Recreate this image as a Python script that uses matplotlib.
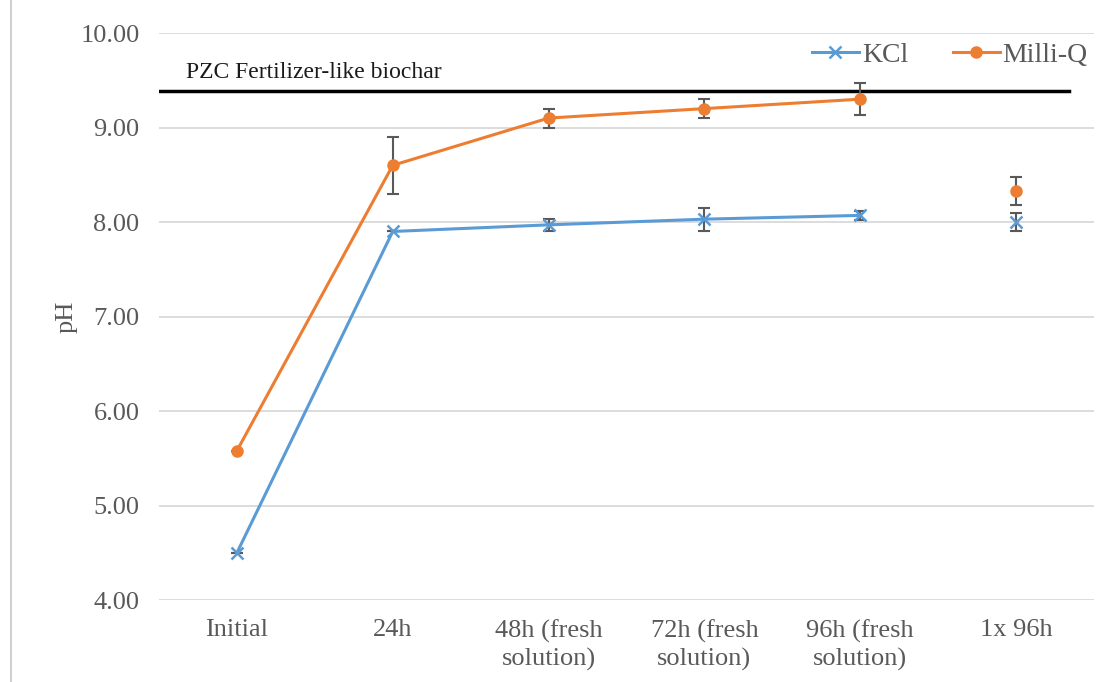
import numpy as np
import matplotlib.pyplot as plt
from matplotlib.lines import Line2D

categories = ['Initial', '24h', '48h (fresh\nsolution)', '72h (fresh\nsolution)',
              '96h (fresh\nsolution)', '1x 96h']
kcl = [4.50, 7.90, 7.97, 8.03, 8.07, 8.00]
kcl_err = [0.0, 0.0, 0.06, 0.12, 0.05, 0.10]
milliq = [5.58, 8.60, 9.10, 9.20, 9.30, 8.33]
milliq_err = [0.0, 0.30, 0.10, 0.10, 0.17, 0.15]
pzc = 9.39

plt.rcParams['font.family'] = ['Liberation Serif', 'DejaVu Serif']

blue = '#5b9bd5'
orange = '#ed7d31'
grey_txt = '#595959'

fig = plt.figure(figsize=(11.02, 6.82), dpi=100)
ax = fig.add_axes([0.1443, 0.1202, 0.8484, 0.8314])
x = np.arange(len(categories))

# gridlines
ax.set_ylim(4, 10)
ax.set_xlim(-0.5, len(categories) - 0.5)
ax.set_yticks(np.arange(4, 10.01, 1))
ax.set_yticklabels(['%.2f' % v for v in np.arange(4, 10.01, 1)])
ax.grid(axis='y', color='#d9d9d9', linewidth=1.3)
ax.set_axisbelow(True)
for s in ax.spines.values():
    s.set_visible(False)

# PZC line
ax.axhline(pzc, xmin=0, xmax=0.973, color='black', linewidth=2.5, zorder=2)
ax.annotate('PZC Fertilizer-like biochar', xy=(-0.33, pzc), xytext=(0, 9),
            textcoords='offset points', fontsize=17, color='#1a1a1a')

# error bars
ax.errorbar(x, kcl, yerr=kcl_err, fmt='none', ecolor='#595959', elinewidth=1.5,
            capsize=4, capthick=1.5, zorder=3)
ax.errorbar(x, milliq, yerr=milliq_err, fmt='none', ecolor='#595959', elinewidth=1.5,
            capsize=4, capthick=1.5, zorder=3)

# series: connected up to 96h, last one stands alone
ax.plot(x[:5], kcl[:5], color=blue, linewidth=2.2, marker='x', markersize=8,
        markeredgewidth=1.8, zorder=4)
ax.plot(x[5:], kcl[5:], linestyle='none', color=blue, marker='x', markersize=8,
        markeredgewidth=1.8, zorder=4)
ax.plot(x[:5], milliq[:5], color=orange, linewidth=2.2, marker='o', markersize=8, zorder=4)
ax.plot(x[5:], milliq[5:], linestyle='none', color=orange, marker='o', markersize=8, zorder=4)

ax.set_xticks(x)
ax.set_xticklabels(categories, fontsize=19, color=grey_txt, linespacing=1.3)
ax.tick_params(axis='y', labelsize=19, labelcolor=grey_txt, length=0, pad=14)
ax.tick_params(axis='x', length=0, pad=14)
ax.set_ylabel('pH', fontsize=19, color=grey_txt, labelpad=2)

handles = [Line2D([], [], color=blue, linewidth=2.2, marker='x', markersize=8, markeredgewidth=1.8),
           Line2D([], [], color=orange, linewidth=2.2, marker='o', markersize=8)]
leg = ax.legend(handles, ['KCl', 'Milli-Q'], loc='upper right', ncol=2, frameon=False,
                fontsize=20, handlelength=1.7, handletextpad=0.1, columnspacing=1.6,
                bbox_to_anchor=(1.02, 1.027))
for t in leg.get_texts():
    t.set_color(grey_txt)

fig.add_artist(Line2D([0.01, 0.01], [0, 1], transform=fig.transFigure, color='#d0d0d0', linewidth=1.5))

fig.savefig('out.png', dpi=100)
